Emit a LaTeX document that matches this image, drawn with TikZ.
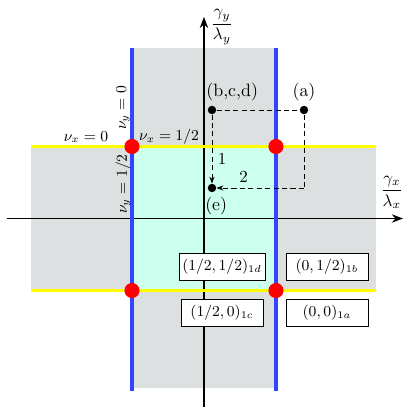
\documentclass[tikz,border=0pt]{standalone}
\usepackage{amsmath,amssymb}
\usepackage{tikz}
\usetikzlibrary{arrows.meta,positioning}
\definecolor{BandGray}{HTML}{DCE0E0}
\definecolor{CoreCyan}{HTML}{CCFFEE}
\definecolor{LineBlue}{HTML}{3344FF}
\definecolor{LineYellow}{HTML}{FFFF00}

\begin{document}
\begin{tikzpicture}[x=1.5cm,y=1.5cm,
  pt/.style={circle, fill=black, inner sep=0pt, minimum size=5pt},
  crit/.style={circle, fill=red, inner sep=0pt, minimum size=0.21*1.5cm},
  lbl/.style={draw, fill=white, font=\small, inner sep=2pt,
              minimum width=1.14*1.5cm, minimum height=0.37*1.5cm},
  path/.style={densely dashed, -{Stealth[length=4pt]}},
  every label/.style={font=\fontsize{10.6}{12}\selectfont},
  >=Stealth]
  \useasboundingbox (-2.833,-2.618) rectangle (2.931,3.035);
  % regions
  \fill[BandGray] (-1,-2.35) rectangle (1,2.37);
  \fill[BandGray] (-2.4,-1) rectangle (2.39,1);
  \fill[CoreCyan] (-1,-1) rectangle (1,1);
  % axes
  \coordinate (xl) at (-2.736,0);
  \coordinate (xr) at (2.764,0);
  \coordinate (yb) at (0,-2.618);
  \coordinate (yt) at (0,2.80);
  \draw[thick,->] (xl) -- (xr);
  \draw[thick,->] (yb) -- (yt);
  \node (gx) at (2.61,0.36) {$\dfrac{\gamma_x}{\lambda_x}$};
  \node (gy) at (0.25,2.66) {$\dfrac{\gamma_y}{\lambda_y}$};
  % critical lines
  \coordinate (bl1) at (-1,2.368);  \coordinate (bl2) at (-1,-2.396);
  \coordinate (br1) at ( 1,2.368);  \coordinate (br2) at ( 1,-2.396);
  \coordinate (yt1) at (-2.403, 1); \coordinate (yt2) at (2.389, 1);
  \coordinate (yb1) at (-2.403,-1); \coordinate (yb2) at (2.389,-1);
  \draw[LineYellow, line width=2pt] (yt1) -- (yt2) (yb1) -- (yb2);
  \draw[LineBlue, line width=2pt] (bl1) -- (bl2) (br1) -- (br2);
  \node[crit] (c1) at (-1, 1) {};
  \node[crit] (c2) at ( 1, 1) {};
  \node[crit] (c3) at (-1,-1) {};
  \node[crit] (c4) at ( 1,-1) {};
  % line labels
  \node[font=\small] (nx0) at (-1.639,1.132) {$\nu_x = 0$};
  \node[font=\small] (nx1) at (-0.486,1.132) {$\nu_x = 1/2$};
  \node[font=\small, rotate=90] (ny0) at (-1.125,1.535) {$\nu_y = 0$};
  \node[font=\small, rotate=90] (ny1) at (-1.125,0.479) {$\nu_y = 1/2$};
  % points and paths
  \node[pt, label={[yshift=-1pt,xshift=12pt]above:{(b,c,d)}}] (B) at (0.111,1.507) {};
  \node[pt, label={[yshift=-1pt]above:{(a)}}] (A) at (1.389,1.507) {};
  \node[pt, label={[yshift=1pt,xshift=2.5pt]below:{(e)}}] (E) at (0.111,0.424) {};
  \coordinate (K) at (1.389,0.424);
  \draw[densely dashed] (B) -- (A);
  \draw[path] (B) -- node[right, pos=0.64] {1} (E);
  \draw[densely dashed] (A) -- (K);
  \draw[path] (K) -- node[above, pos=0.69] {2} (E);
  % phase boxes
  \node[lbl] (p1d) at (0.25,-0.667)  {$(1/2,1/2)_{1d}$};
  \node[lbl] (p1b) at (1.708,-0.667) {$(0,1/2)_{1b}$};
  \node[lbl] (p1c) at (0.25,-1.313)  {$(1/2,0)_{1c}$};
  \node[lbl] (p1a) at (1.708,-1.313) {$(0,0)_{1a}$};
\end{tikzpicture}
\end{document}
